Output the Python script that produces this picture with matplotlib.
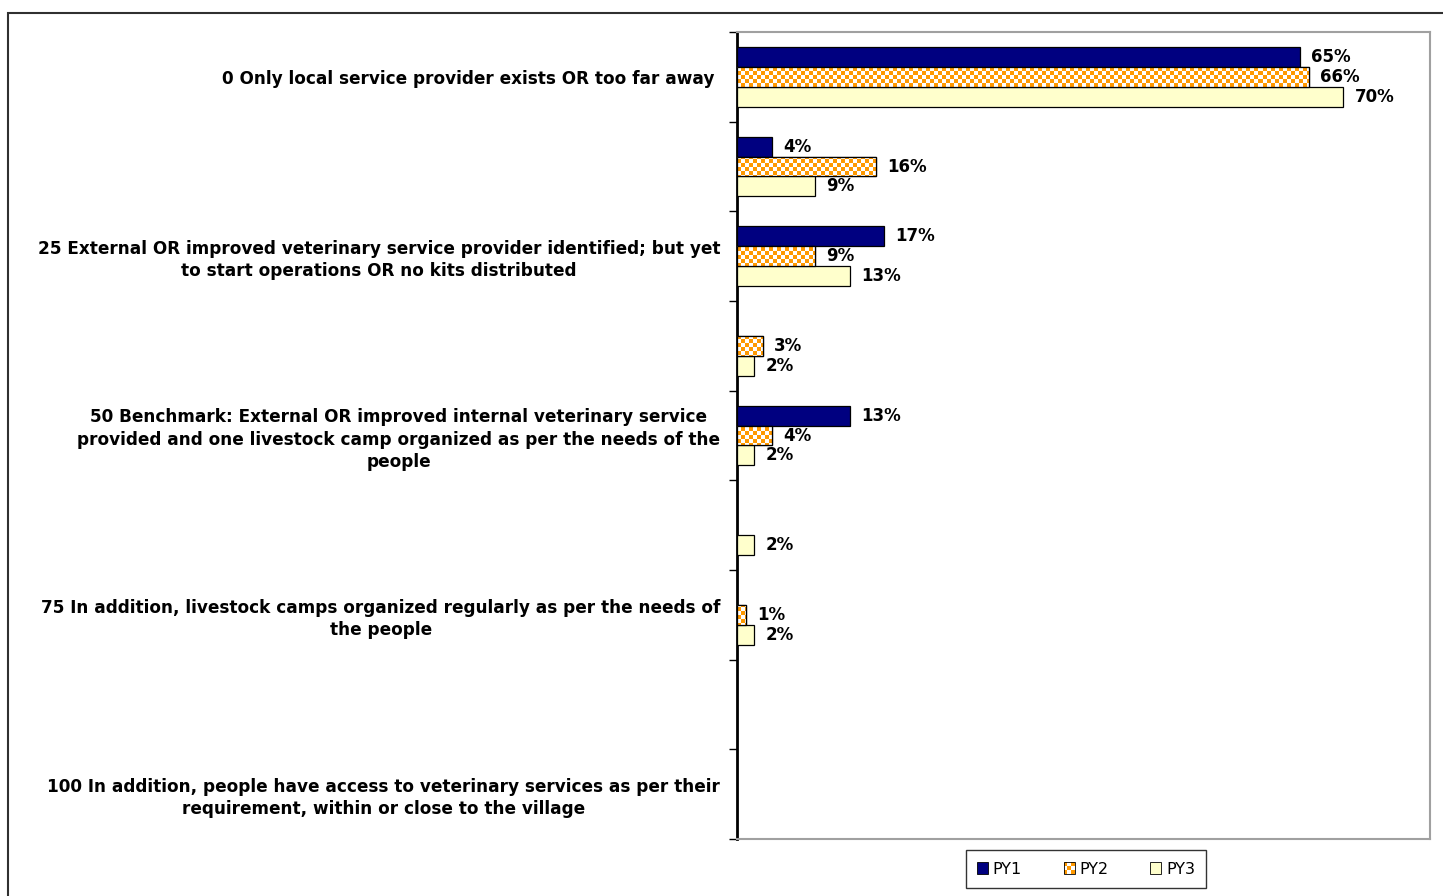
import numpy as np
import matplotlib
matplotlib.use("Agg")
import matplotlib.pyplot as plt
from matplotlib.patches import Rectangle, Patch
from matplotlib.path import Path
from matplotlib.legend_handler import HandlerBase

# scale levels (top to bottom); only the even rows carry a description
categories = [
    "0 Only local service provider exists OR too far away ",
    "",
    "25 External OR improved veterinary service provider identified; but yet\nto start operations OR no kits distributed",
    "",
    "50 Benchmark: External OR improved internal veterinary service\nprovided and one livestock camp organized as per the needs of the\npeople",
    "",
    "75 In addition, livestock camps organized regularly as per the needs of\nthe people",
    "",
    "100 In addition, people have access to veterinary services as per their\nrequirement, within or close to the village",
]
series_names = ["PY1", "PY2", "PY3"]
py1 = [65, 4, 17, 0, 13, 0, 0, 0, 0]
py2 = [66, 16, 9, 3, 4, 0, 1, 0, 0]
py3 = [70, 9, 13, 2, 2, 2, 2, 0, 0]

NAVY = "#000080"
ORANGE = "#FF9900"
CREAM = "#FFFFCC"
FONT = "DejaVu Sans"

W, H, DPI = 1443, 896, 100
fig = plt.figure(figsize=(W / DPI, H / DPI), dpi=DPI)
ax = fig.add_axes([737 / W, 1 - 839 / H, (1430 - 737) / W, (839 - 32) / H])

# outer chart frame (only left and top edges fall inside the image)
fig.add_artist(Rectangle((8 / W, -0.5), 2, 1.5 - 13 / H, transform=fig.transFigure,
                         fill=False, edgecolor="#303030", linewidth=1.5))

y = np.arange(len(categories))
h = 0.223
xmax = 80

bars = []
for vals, off, fc in [(py1, -h, NAVY), (py2, 0, "white"), (py3, h, CREAM)]:
    v = np.array(vals, dtype=float)
    lw = np.where(v > 0, 0.9, 0)
    b = ax.barh(y + off, v, height=h, color=fc, edgecolor="black", linewidth=lw, zorder=3)
    bars.append(b)

ax.set_xlim(0, xmax)
ax.set_ylim(len(categories) - 0.5, -0.5)

# checkerboard fill for PY2, clipped to its bars
cell = 4
nx = int(round((1430 - 737) / cell))
ny = int(round((839 - 32) / cell))
ii, jj = np.meshgrid(np.arange(nx), np.arange(ny))
checker = ((ii + jj) % 2).astype(float)
cmap = matplotlib.colors.ListedColormap([ORANGE, "white"])
im = ax.imshow(checker, cmap=cmap, extent=(0, xmax, len(categories) - 0.5, -0.5),
               aspect="auto", interpolation="nearest", zorder=3.5)
paths = [r.get_path().transformed(r.get_patch_transform())
         for r, v in zip(bars[1], py2) if v > 0]
im.set_clip_path(Path.make_compound_path(*paths), ax.transData)
for r, v in zip(bars[1], py2):
    if v > 0:
        ax.add_patch(Rectangle(r.get_xy(), r.get_width(), r.get_height(),
                               fill=False, edgecolor="black", linewidth=0.9, zorder=4))
ax.set_xlim(0, xmax)
ax.set_ylim(len(categories) - 0.5, -0.5)

# value labels
for vals, off in [(py1, -h), (py2, 0), (py3, h)]:
    for yi, v in zip(y, vals):
        if v > 0:
            ax.annotate(f"{v}%", (v, yi + off), xytext=(8, 0), textcoords="offset points",
                        ha="left", va="center", fontsize=12, fontweight="bold",
                        family=FONT, zorder=5)

ax.set_yticks(y)
ax.set_yticklabels(categories, fontsize=12.2, fontweight="bold", family=FONT,
                   multialignment="center", linespacing=1.3)
ax.set_yticks(np.arange(len(categories) + 1) - 0.5, minor=True)
ax.tick_params(axis="y", which="major", length=0, pad=12)
ax.tick_params(axis="y", which="minor", length=6, width=1, direction="out")
ax.set_xticks([])

for side in ["top", "right", "bottom"]:
    ax.spines[side].set_color("#A0A0A0")
    ax.spines[side].set_linewidth(1.5)
ax.spines["left"].set_color("black")
ax.spines["left"].set_linewidth(2)


class CheckerHandler(HandlerBase):
    def create_artists(self, legend, orig_handle, xdescent, ydescent,
                       width, height, fontsize, trans):
        x0, y0 = -xdescent, -ydescent
        n = 3
        cw, ch = width / n, height / n
        arts = []
        for i in range(n):
            for j in range(n):
                c = ORANGE if (i + j) % 2 == 0 else "white"
                arts.append(Rectangle((x0 + i * cw, y0 + j * ch), cw, ch,
                                      facecolor=c, edgecolor="none", transform=trans))
        arts.append(Rectangle((x0, y0), width, height, fill=False,
                              edgecolor="black", linewidth=0.6, transform=trans))
        return arts


handles = [Patch(facecolor=NAVY, edgecolor="black", linewidth=0.6),
           Patch(facecolor=ORANGE),
           Patch(facecolor=CREAM, edgecolor="black", linewidth=0.6)]
leg = fig.legend(handles, series_names, loc="center", bbox_to_anchor=(1086 / W, 1 - 869 / H),
                 ncol=3, frameon=True, fancybox=False, edgecolor="black",
                 handlelength=0.7, handleheight=0.7, handletextpad=0.3,
                 columnspacing=2.6, borderpad=0.7, borderaxespad=0,
                 prop={"family": FONT, "size": 11.5},
                 handler_map={handles[1]: CheckerHandler()})
leg.get_frame().set_linewidth(1)

fig.savefig("out.png", dpi=DPI)
